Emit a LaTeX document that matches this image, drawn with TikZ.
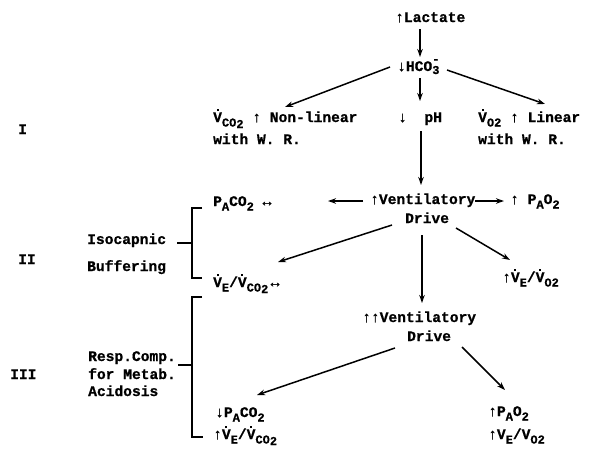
\documentclass[tikz,border=0pt]{standalone}
\usepackage{fontspec}
\setmainfont{Liberation Mono}[BoldFont={Liberation Mono Bold},BoldFeatures={FakeBold=0.8}]
\usetikzlibrary{arrows.meta}
\newcommand\Vd{\ooalign{V\cr\hidewidth\raisebox{11pt}{\rule{2pt}{2pt}}\hidewidth\cr}}
\newcommand\sbs[1]{\raisebox{-4.5pt}{\fontsize{12}{12}\selectfont #1}}
\newcommand\hcoiii{HCO\rlap{\raisebox{8pt}{\fontsize{12}{12}\selectfont -}}\raisebox{-3pt}{\fontsize{12}{12}\selectfont 3}}
\begin{document}
\begin{tikzpicture}[x=1pt,y=-1pt,
  txt/.style={anchor=base west,inner sep=0pt,font=\fontsize{14.6}{16}\selectfont\bfseries},
  arr/.style={line width=1.5pt,-{Stealth[length=8pt,width=5.5pt]}},
  brk/.style={line width=1.2pt}]
\useasboundingbox[fill=white] (0,0) rectangle (595,459);
% texts
\node[txt] (lac) at (395,22) {↑Lactate};
\node[txt] (hco) at (397,71) {↓\hcoiii};
\node[txt] (vcoa) at (213,122) {\Vd\sbs{CO\raisebox{-1.5pt}{2}} ↑ Non-linear};
\node[txt] (vcob) at (213,144) {with W. R.};
\node[txt] (ph) at (398,122) {↓~~pH};
\node[txt] (voa) at (478,122) {\Vd\sbs{O2} ↑ Linear};
\node[txt] (vob) at (478,144) {with W. R.};
\node[txt] (r1) at (18,134) {I};
\node[txt] (paco) at (213,206) {P\sbs{A}CO\sbs{2} ↔};
\node[txt] (vd1a) at (370,204) {↑Ventilatory};
\node[txt] (vd1b) at (405,223) {Drive};
\node[txt] (pao) at (510,204) {↑ P\sbs{A}O\sbs{2}};
\node[txt] (r2) at (18,264) {II};
\node[txt] (iso) at (87,244) {Isocapnic};
\node[txt] (buf) at (87,271) {Buffering};
\node[txt] (vevc) at (213,287) {\Vd\sbs{E}/\Vd\sbs{CO\raisebox{-1.5pt}{2}}\,↔};
\node[txt] (vevo) at (502,282) {↑\Vd\sbs{E}/\Vd\sbs{O2}};
\node[txt] (vd2a) at (362,322) {↑↑Ventilatory};
\node[txt] (vd2b) at (407,341) {Drive};
\node[txt] (r3) at (10,379) {III};
\node[txt] (resp) at (88,361) {Resp.Comp.};
\node[txt] (met) at (88,379) {for Metab.};
\node[txt] (aci) at (88,396) {Acidosis};
\node[txt] (dpaco) at (215,417) {↓P\sbs{A}CO\sbs{2}};
\node[txt] (vevcb) at (213,439) {↑\Vd\sbs{E}/\Vd\sbs{CO\raisebox{-1.5pt}{2}}};
\node[txt] (upao) at (488,416) {↑P\sbs{A}O\sbs{2}};
\node[txt] (vevob) at (488,439) {↑V\sbs{E}/V\sbs{O2}};
% connector end points
\coordinate (a1s) at (420,29);  \coordinate (a1e) at (420,57);
\coordinate (a2s) at (390,67);  \coordinate (a2e) at (285,107);
\coordinate (a3s) at (420,78);  \coordinate (a3e) at (420,101);
\coordinate (a4s) at (447,70);  \coordinate (a4e) at (545,104);
\coordinate (a5s) at (421,131); \coordinate (a5e) at (421,185);
\coordinate (a6s) at (363,201); \coordinate (a6e) at (328,201);
\coordinate (a7s) at (475,201); \coordinate (a7e) at (504,201);
\coordinate (a8s) at (392,225); \coordinate (a8e) at (278,262);
\coordinate (a9s) at (422,235); \coordinate (a9e) at (422,303);
\coordinate (a10s) at (456,228); \coordinate (a10e) at (510,260);
\coordinate (a11s) at (395,348); \coordinate (a11e) at (257,395);
\coordinate (a12s) at (462,347); \coordinate (a12e) at (505,390);
\draw[arr] (a1s) -- (a1e);
\draw[arr] (a2s) -- (a2e);
\draw[arr] (a3s) -- (a3e);
\draw[arr] (a4s) -- (a4e);
\draw[arr] (a5s) -- (a5e);
\draw[arr] (a6s) -- (a6e);
\draw[arr] (a7s) -- (a7e);
\draw[arr] (a8s) -- (a8e);
\draw[arr] (a9s) -- (a9e);
\draw[arr] (a10s) -- (a10e);
\draw[arr] (a11s) -- (a11e);
\draw[arr] (a12s) -- (a12e);
% brackets
\coordinate (b2t) at (202,208); \coordinate (b2b) at (202,278); \coordinate (b2m) at (177,243);
\draw[brk] (b2t) -- (192,208) -- (192,278) -- (b2b);
\draw[brk] (b2m) -- (192,243);
\coordinate (b3t) at (202,297); \coordinate (b3b) at (203,437); \coordinate (b3m) at (178,365);
\draw[brk] (b3t) -- (192,297) -- (192,437) -- (b3b);
\draw[brk] (b3m) -- (192,365);
\end{tikzpicture}
\end{document}
